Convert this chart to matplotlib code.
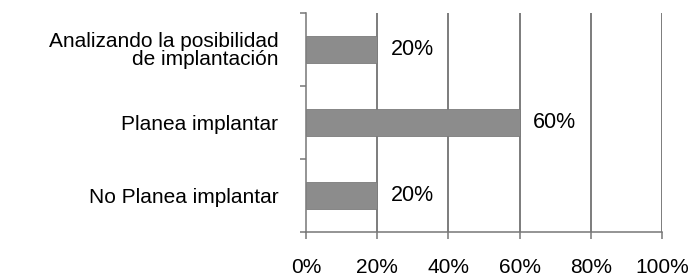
import matplotlib
matplotlib.use("Agg")
import matplotlib.pyplot as plt
from matplotlib.ticker import FixedLocator

# Data
categories = ["Analizando la posibilidad\nde implantación", "Planea implantar", "No Planea implantar"]
values = [20, 60, 20]
xticks = [0, 20, 40, 60, 80, 100]
xtick_labels = ["0%", "20%", "40%", "60%", "80%", "100%"]

plt.rcParams["font.family"] = ["Liberation Sans", "DejaVu Sans"]

fig = plt.figure(figsize=(6.93, 2.79), dpi=100)
ax = fig.add_axes([0.4416, 0.1685, 0.5137, 0.785])

ypos = list(range(len(categories)))
ax.barh(ypos, values, height=0.38, color="#8c8c8c", edgecolor="#7c7c7c", linewidth=0.6, zorder=3)

for y, v in zip(ypos, values):
    ax.text(v + 3.7, y, f"{v}%", va="center", ha="left", fontsize=15.5, color="black", zorder=4)

ax.set_xlim(0, 100)
ax.set_ylim(len(categories) - 0.5, -0.5)

ax.set_xticks(xticks)
ax.set_xticklabels(xtick_labels, fontsize=15)
ax.tick_params(axis="x", direction="out", length=5, width=1.1, color="#777777", pad=14)

ax.set_yticks(ypos)
ax.set_yticklabels(categories, fontsize=15, linespacing=0.9)
ax.tick_params(axis="y", which="major", length=0, pad=20)
ax.yaxis.set_minor_locator(FixedLocator([-0.5, 0.5, 1.5, 2.5]))
ax.tick_params(axis="y", which="minor", direction="out", length=4, width=1.1, color="#777777")

for x in xticks[1:]:
    ax.axvline(x, color="#666666", linewidth=1.2, zorder=1)

for side in ["top", "right"]:
    ax.spines[side].set_visible(False)
for side in ["left", "bottom"]:
    ax.spines[side].set_color("#777777")
    ax.spines[side].set_linewidth(1.1)

fig.savefig("out.png", dpi=100)
